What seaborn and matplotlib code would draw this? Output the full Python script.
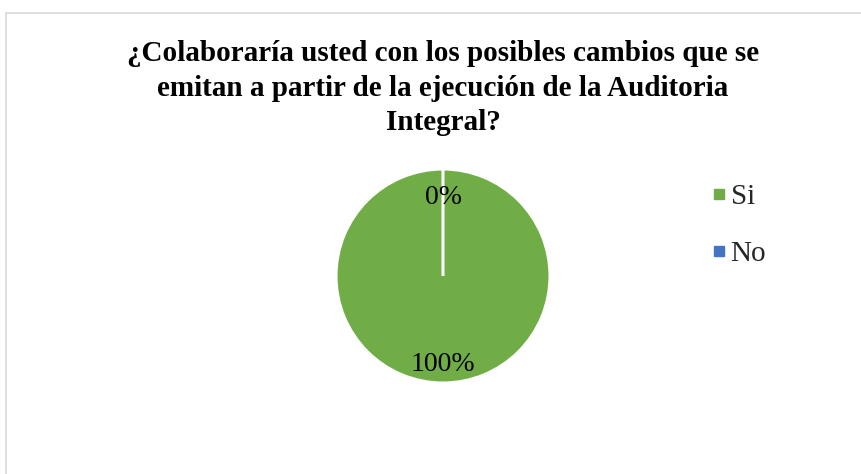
import matplotlib
matplotlib.use("Agg")
import matplotlib.pyplot as plt
import seaborn as sns
from matplotlib.lines import Line2D
from matplotlib.patches import Rectangle

categories = ["Si", "No"]
values = [100, 0]
colors = ["#70AD47", "#4472C4"]
title = ("¿Colaboraría usted con los posibles cambios que se\n"
         "emitan a partir de la ejecución de la Auditoria\n"
         "Integral?")

sns.set_theme(style="white")
plt.rcParams["font.family"] = ["Liberation Serif", "DejaVu Serif"]

W, H = 862, 474
fig = plt.figure(figsize=(W / 100, H / 100), dpi=100)
fig.patch.set_facecolor("white")

# outer chart border
fig.patches.append(Rectangle((6 / W, -0.1), 1.2, 1 - 13 / H + 0.1,
                             transform=fig.transFigure, fill=False,
                             edgecolor="#D9D9D9", linewidth=1.2))

cx, cy, r = 443, 276, 107
ax = fig.add_axes([(cx - r) / W, (H - cy - r) / H, 2 * r / W, 2 * r / H])
wedges, texts, autotexts = ax.pie(
    values, colors=colors, startangle=90, counterclock=False,
    autopct="%1.0f%%", pctdistance=0.78,
    wedgeprops=dict(edgecolor="white", linewidth=2.2),
    textprops=dict(fontsize=20, color="black"))
for t in autotexts:
    x, y = t.get_position()
    t.set_position((x, y - 0.05))
ax.set_xlim(-1.0, 1.0)
ax.set_ylim(-1.0, 1.0)
ax.set_aspect("equal")
ax.axis("off")

fig.text(443 / W, 1 - 88 / H, title, ha="center", va="center",
         multialignment="center", fontsize=21, fontweight="bold",
         linespacing=1.37, color="black")

handles = [Line2D([0], [0], marker="s", linestyle="none", markersize=7,
                  markerfacecolor=c, markeredgecolor=c) for c in colors]
fig.legend(handles, categories, loc="upper left",
           bbox_to_anchor=(697 / W, 1 - 169 / H), frameon=False,
           fontsize=21, handlelength=0.5, handletextpad=0.15,
           labelspacing=1.05, borderpad=0)

fig.savefig("out.png", dpi=100, facecolor="white")
